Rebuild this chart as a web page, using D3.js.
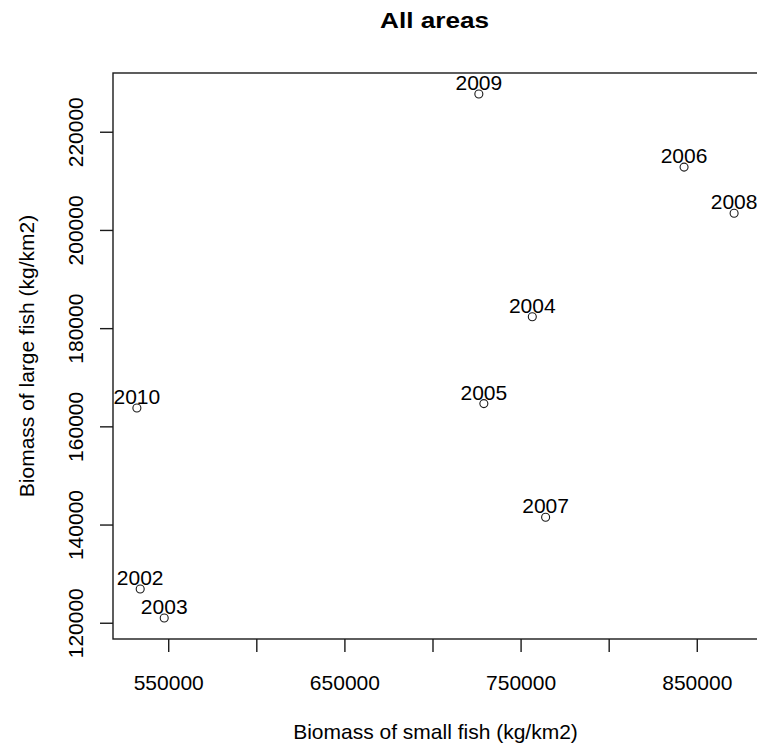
<!DOCTYPE html>
<html>
<head>
<meta charset="utf-8">
<script src="https://cdn.jsdelivr.net/npm/d3@7"></script>
<style>
  body { margin: 0; background: #fff; }
  svg { display: block; }
  text { font-family: Arial, "Liberation Sans", sans-serif; fill: #000; }
</style>
</head>
<body>
<svg id="chart" width="757" height="746"></svg>
<script>
// ---- data ----
const years = ["2002","2003","2004","2005","2006","2007","2008","2009","2010"];
const smallFish = [534091, 547727, 756648, 729148, 842784, 764205, 871193, 726307, 532216];
const largeFish = [126878, 120959, 182306, 164633, 212796, 141490, 203408, 227694, 163735];
const xTicks = [550000, 600000, 650000, 700000, 750000, 800000, 850000];
const xTickLabels = ["550000", "", "650000", "", "750000", "", "850000"];
const yTicks = [120000, 140000, 160000, 180000, 200000, 220000];
const yTickLabels = ["120000", "140000", "160000", "180000", "200000", "220000"];
const title = "All areas";
const xTitle = "Biomass of small fish (kg/km2)";
const yTitle = "Biomass of large fish (kg/km2)";

// ---- layout ----
const W = 757, H = 746;
const mLeft = 113, mRight = 758, mTop = 73, mBottom = 639;
const fs = 21;

function rExtent(vals) {
  const mn = d3.min(vals), mx = d3.max(vals), r = mx - mn;
  return [mn - 0.04 * r, mx + 0.04 * r];
}

const x = d3.scaleLinear().domain(rExtent(smallFish)).range([mLeft, mRight]);
const y = d3.scaleLinear().domain(rExtent(largeFish)).range([mBottom, mTop]);

const svg = d3.select("#chart");
const ink = "#1a1a1a";
const txt = "#1a1a1a";

// box
svg.append("rect")
  .attr("x", mLeft).attr("y", mTop)
  .attr("width", mRight - mLeft).attr("height", mBottom - mTop)
  .attr("fill", "none").attr("stroke", ink).attr("stroke-width", 1.4);

// x axis
const xAxis = d3.axisBottom(x).tickValues(xTicks)
  .tickFormat((d, i) => xTickLabels[i]).tickSize(13).tickPadding(23);
const gx = svg.append("g").attr("transform", `translate(0,${mBottom})`).call(xAxis);
gx.select(".domain").remove();
gx.selectAll(".tick line").attr("stroke", ink).attr("stroke-width", 1.4);
gx.selectAll(".tick text").attr("font-size", fs).attr("fill", txt)
  .style("font-family", "Arial, 'Liberation Sans', sans-serif");

// y axis
const yAxis = d3.axisLeft(y).tickValues(yTicks)
  .tickFormat((d, i) => yTickLabels[i]).tickSize(13).tickPadding(17);
const gy = svg.append("g").attr("transform", `translate(${mLeft},0)`).call(yAxis);
gy.select(".domain").remove();
gy.selectAll(".tick line").attr("stroke", ink).attr("stroke-width", 1.4);
gy.selectAll(".tick text")
  .attr("font-size", fs).attr("fill", txt)
  .style("font-family", "Arial, 'Liberation Sans', sans-serif")
  .attr("x", null).attr("dy", null)
  .attr("text-anchor", "middle")
  .attr("transform", "translate(-30,0) rotate(-90)");

// points
svg.append("g").selectAll("circle")
  .data(years)
  .join("circle")
  .attr("cx", (d, i) => x(smallFish[i]))
  .attr("cy", (d, i) => y(largeFish[i]))
  .attr("r", 4)
  .attr("fill", "none")
  .attr("stroke", ink)
  .attr("stroke-width", 1.1);

// point labels
svg.append("g").selectAll("text")
  .data(years)
  .join("text")
  .attr("x", (d, i) => x(smallFish[i]))
  .attr("y", (d, i) => y(largeFish[i]) - 4)
  .attr("text-anchor", "middle")
  .attr("font-size", fs)
  .attr("fill", txt)
  .text(d => d);

// title
svg.append("text")
  .attr("x", 434.5).attr("y", 28)
  .attr("text-anchor", "middle")
  .attr("font-size", 22).attr("font-weight", "bold")
  .attr("textLength", 109).attr("lengthAdjust", "spacingAndGlyphs")
  .text(title);

// axis titles
svg.append("text")
  .attr("x", (mLeft + mRight) / 2).attr("y", 739)
  .attr("text-anchor", "middle")
  .attr("font-size", fs)
  .attr("fill", txt)
  .text(xTitle);

svg.append("text")
  .attr("transform", `translate(34,${(mTop + mBottom) / 2}) rotate(-90)`)
  .attr("text-anchor", "middle")
  .attr("font-size", fs)
  .attr("fill", txt)
  .text(yTitle);
</script>
</body>
</html>
